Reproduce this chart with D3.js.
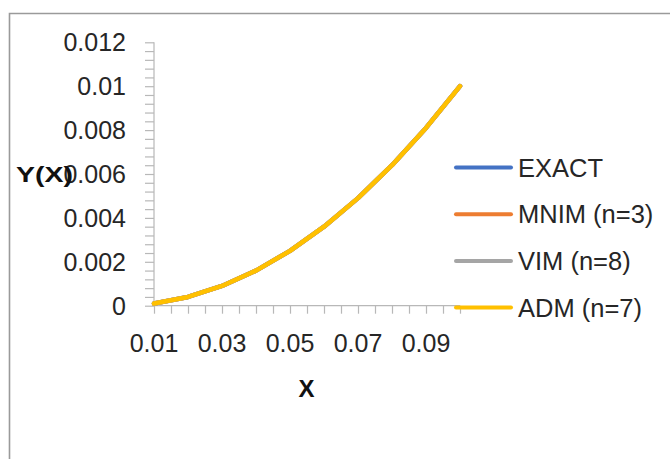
<!DOCTYPE html>
<html><head><meta charset="utf-8">
<script src="https://cdn.jsdelivr.net/npm/d3@7"></script>
<style>body{margin:0;background:#fff}svg{display:block}</style>
</head><body>
<script>
const categories = [0.01,0.02,0.03,0.04,0.05,0.06,0.07,0.08,0.09,0.1];
const exact = [0.0001,0.0004,0.0009,0.0016,0.0025,0.0036,0.0049,0.0064,0.0081,0.01];
const mnim  = [0.0001,0.0004,0.0009,0.0016,0.0025,0.0036,0.0049,0.0064,0.0081,0.01];
const vim   = [0.0001,0.0004,0.0009,0.0016,0.0025,0.0036,0.0049,0.0064,0.0081,0.01];
const adm   = [0.0001,0.0004,0.0009,0.0016,0.0025,0.0036,0.0049,0.0064,0.0081,0.01];
const seriesNames = ["EXACT","MNIM (n=3)","VIM (n=8)","ADM (n=7)"];
const seriesColors = ["#4472C4","#ED7D31","#A5A5A5","#FFC000"];
const yTicks = [0,0.002,0.004,0.006,0.008,0.01,0.012];
const yTickLabels = ["0","0.002","0.004","0.006","0.008","0.01","0.012"];
const xTickLabels = ["0.01","0.03","0.05","0.07","0.09"];

const W=670,H=459;
const svg=d3.select("body").append("svg").attr("width",W).attr("height",H);
const font="'Liberation Sans', Arial, sans-serif";
const txt="#262626";

// outer frame
svg.append("path").attr("d","M9.5,"+(H+5)+"V13.5H"+(W+5)).attr("fill","none").attr("stroke","#9a9a9a").attr("stroke-width",1.6);

const x=d3.scaleLinear().domain([0.01,0.1]).range([154,460]);
const y=d3.scaleLinear().domain([0,0.012]).range([305.7,42.3]);
const axisColor="#b8b8b8";

// y axis
const yMinor=d3.range(0,0.01201,0.0004);
const yAxis=d3.axisLeft(y).tickValues(yMinor).tickSize(9).tickFormat("");
const gy=svg.append("g").attr("transform","translate(154,0)").call(yAxis);
gy.selectAll("path,line").attr("stroke",axisColor).attr("stroke-width",1.2);
gy.select(".domain").attr("d","M0,"+y(0.012)+"V"+y(0));
svg.append("g").selectAll("text").data(yTicks).join("text")
  .attr("x",126).attr("y",d=>y(d)).attr("dy","0.36em").attr("text-anchor","end")
  .attr("font-family",font).attr("font-size",25).attr("fill",txt)
  .text((d,i)=>yTickLabels[i]);

// x axis
const xMinor=d3.range(0,19).map(i=>0.01+i*0.005);
const xAxis=d3.axisBottom(x).tickValues(xMinor).tickSize(8).tickFormat("");
const gx=svg.append("g").attr("transform","translate(0,305.7)").call(xAxis);
gx.selectAll("path,line").attr("stroke",axisColor).attr("stroke-width",1.2);
gx.select(".domain").attr("d","M"+x(0.01)+",0H"+x(0.1));
svg.append("g").selectAll("text").data(xTickLabels).join("text")
  .attr("x",d=>x(+d)).attr("y",351.5).attr("text-anchor","middle")
  .attr("font-family",font).attr("font-size",25).attr("fill",txt)
  .text(d=>d);

// axis titles
svg.append("text").attr("x",16).attr("y",182).attr("font-family",font).attr("font-weight","bold")
  .attr("font-size",22.5).attr("fill","#111").attr("textLength",57).attr("lengthAdjust","spacingAndGlyphs").text("Y(X)");
svg.append("text").attr("x",306.5).attr("y",397).attr("text-anchor","middle").attr("font-family",font).attr("font-weight","bold")
  .attr("font-size",24).attr("fill","#111").text("X");

// lines
const data=[exact,mnim,vim,adm];
const line=d3.line().x((d,i)=>x(categories[i])).y(d=>y(d));
svg.append("g").selectAll("path").data(data).join("path")
  .attr("d",line).attr("fill","none").attr("stroke",(d,i)=>seriesColors[i])
  .attr("stroke-width",4.5).attr("stroke-linejoin","round").attr("stroke-linecap","round");

// legend
const lg=svg.append("g").selectAll("g").data(seriesNames).join("g")
  .attr("transform",(d,i)=>"translate(0,"+(167.5+i*46.7)+")");
lg.append("line").attr("x1",456).attr("x2",511).attr("y1",0).attr("y2",0)
  .attr("stroke",(d,i)=>seriesColors[i]).attr("stroke-width",4).attr("stroke-linecap","round");
lg.append("text").attr("x",518).attr("y",0).attr("dy","0.36em")
  .attr("font-family",font).attr("font-size",25.5).attr("fill",txt).text(d=>d);
</script>
</body></html>
